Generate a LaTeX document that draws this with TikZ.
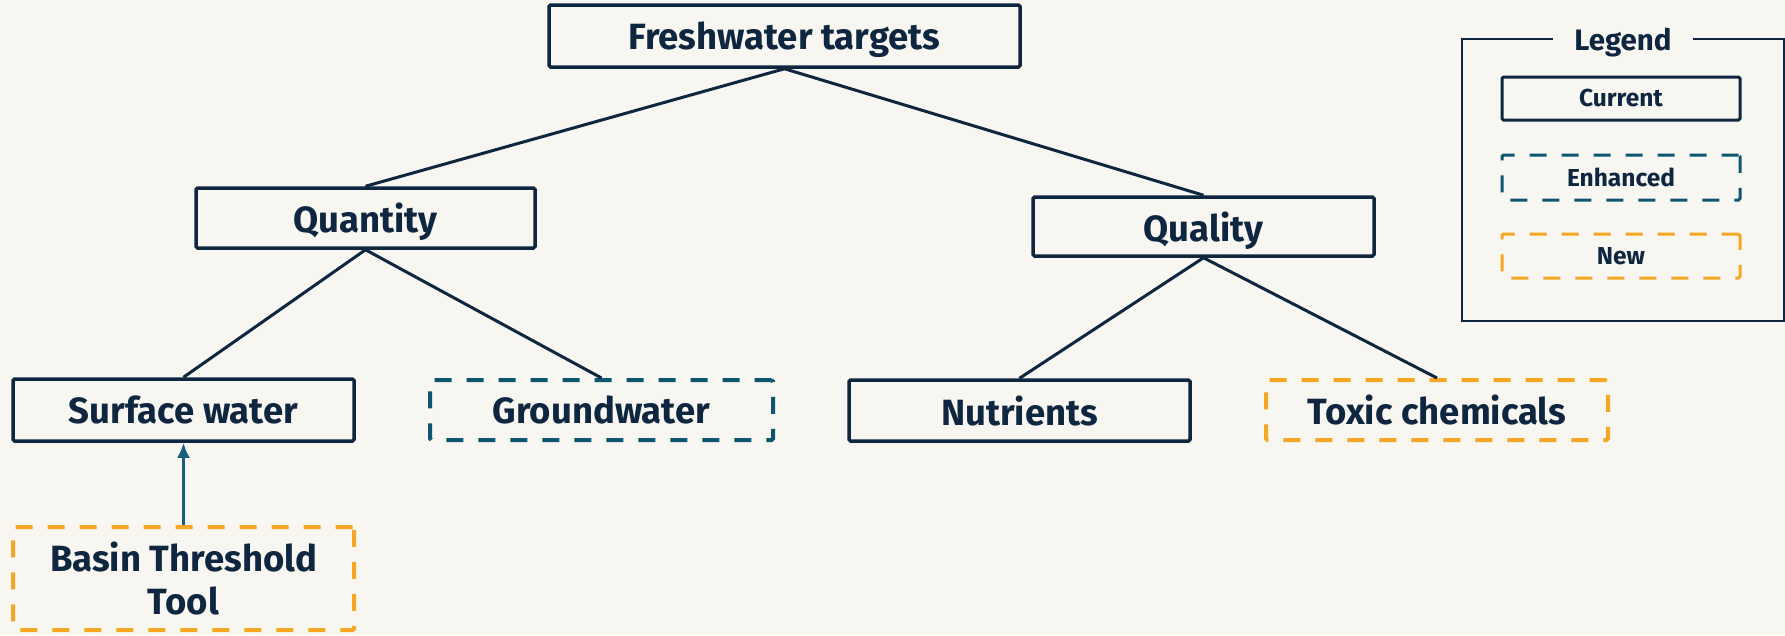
\documentclass[tikz,border=0pt]{standalone}
\usepackage{fontspec}
\setmainfont{Fira Sans}
\usetikzlibrary{arrows.meta}
\definecolor{bg}{HTML}{F7F6F1}
\definecolor{navy}{HTML}{0F2640}
\definecolor{teal}{HTML}{0D5670}
\definecolor{arrowteal}{HTML}{16607F}
\definecolor{amber}{HTML}{F5A623}
\tikzset{
  box/.style={draw=navy, line width=3.5pt, rounded corners=1.5pt, fill=bg, text=navy, font=\fontsize{36.5}{40}\selectfont\bfseries, inner sep=0pt, align=center},
  current/.style={box},
  enhanced/.style={box, draw=teal, dash pattern=on 17pt off 15pt, line width=4pt},
  newbox/.style={box, draw=amber, dash pattern=on 17pt off 15pt, line width=4pt},
  lgd/.style={font=\fontsize{24.5}{28}\selectfont\bfseries, line width=3pt},
  link/.style={draw=navy, line width=3pt},
  single/.style={text depth=0pt},
}
\begin{document}
\begin{tikzpicture}[x=1pt,y=-1pt]
\fill[bg] (0,0) rectangle (1785,635);
\useasboundingbox (0,0) rectangle (1785,635);
% main boxes
\node[current, single, minimum width=471pt, minimum height=62pt] (fresh) at (784.5,36) {Freshwater targets};
\node[current, single, minimum width=339pt, minimum height=60pt] (quantity) at (365.5,218) {Quantity};
\node[current, single, minimum width=341pt, minimum height=59pt] (quality) at (1203.5,226.5) {Quality};
\node[current, single, minimum width=341pt, minimum height=62pt] (surface) at (183.5,410) {Surface water};
\node[enhanced, single, minimum width=343pt, minimum height=60pt] (ground) at (601.5,410) {Groundwater};
\node[current, single, minimum width=341pt, minimum height=61pt] (nutr) at (1019.5,410.5) {Nutrients};
\node[newbox, single, minimum width=342pt, minimum height=60pt] (toxic) at (1437,410) {Toxic chemicals};
\node[newbox, minimum width=341pt, minimum height=103pt] (basin) at (183.5,578.5) {Basin Threshold\\[3pt]Tool};
% connectors
\draw[link] (fresh.south) -- (quantity.north);
\draw[link] (fresh.south) -- (quality.north);
\draw[link] (quantity.south) -- (surface.north);
\draw[link] (quantity.south) -- (ground.north);
\draw[link] (quality.south) -- (nutr.north);
\draw[link] (quality.south) -- (toxic.north);
\draw[draw=arrowteal, line width=3pt, -{Latex[length=15pt,width=13pt]}] (basin.north) -- (surface.south);
% legend
\draw[navy, line width=1.5pt] (1553,39) -- (1462,39) -- (1462,321) -- (1784,321) -- (1784,39) -- (1693,39);
\node[text=navy, font=\fontsize{29.5}{32}\selectfont\bfseries, single] (lgtitle) at (1623,39) {Legend};
\node[current, lgd, minimum width=238pt, minimum height=43pt] (lcur) at (1621,98.5) {Current};
\node[enhanced, lgd, minimum width=238pt, minimum height=45pt] (lenh) at (1621,177.5) {Enhanced};
\node[newbox, lgd, minimum width=238pt, minimum height=44pt] (lnew) at (1621,256) {New};
\end{tikzpicture}
\end{document}
